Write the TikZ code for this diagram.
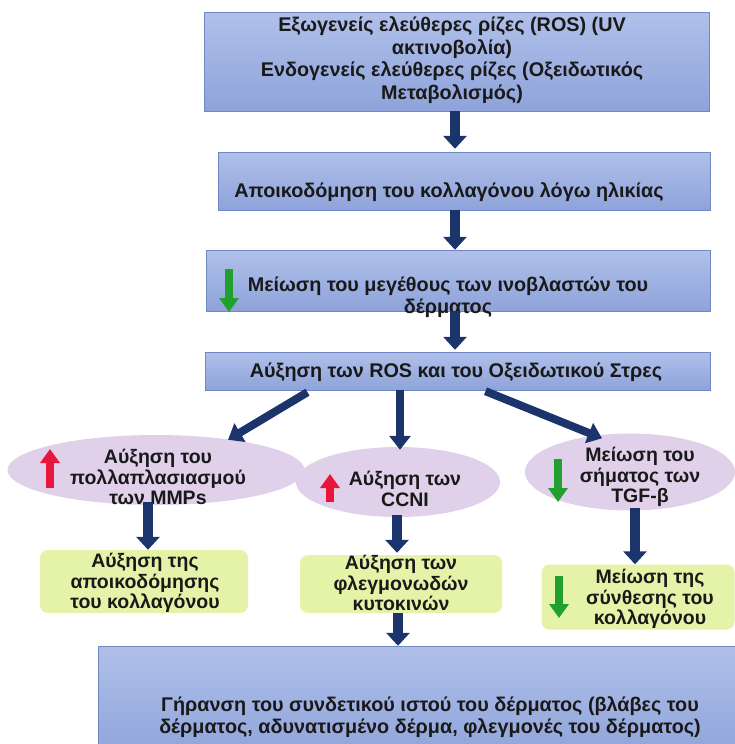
\documentclass[tikz,border=0pt]{standalone}
\usepackage{fontspec}
\setmainfont{Liberation Sans}
\usetikzlibrary{arrows.meta,shapes.geometric}

\definecolor{navy}{HTML}{1B356C}
\definecolor{boxtop}{HTML}{B0C0EA}
\definecolor{boxbot}{HTML}{8EA3DA}
\definecolor{boxline}{HTML}{6F88C4}
\definecolor{lilac}{HTML}{E0D0EA}
\definecolor{lime}{HTML}{E5F3A8}
\definecolor{upred}{HTML}{E8163C}
\definecolor{downgreen}{HTML}{21A030}

\tikzset{
  bluebox/.style={draw=boxline, top color=boxtop, bottom color=boxbot, rectangle, inner sep=0pt},
  oval/.style={ellipse, fill=lilac, inner sep=0pt},
  limebox/.style={rectangle, rounded corners=8pt, fill=lime, inner sep=0pt},
  flow/.style={navy, line width=10pt, -{Triangle[width=23pt,length=13pt]}},
  slant/.style={navy, line width=8pt, -{Triangle[width=21pt,length=14pt]}},
  updn/.style={line width=8pt, -{Triangle[width=19pt,length=14pt]}},
  txt/.style={align=center, inner sep=0pt, font=\bfseries\fontsize{19.8}{22.5}\selectfont, text=black!90},
  ntxt/.style={align=center, inner sep=0pt, font=\bfseries\fontsize{19.5}{20.5}\selectfont, text=black!90},
}

\begin{document}
\begin{tikzpicture}[x=1pt,y=-1pt]
\useasboundingbox (0,0) rectangle (735,744);

% main column
\node[bluebox, minimum width=505pt, minimum height=99pt] (ros) at (456.5,61.5){};
\node[txt] (ros-t) at (452,60){Εξωγενείς ελεύθερες ρίζες (ROS) (UV\\ακτινοβολία)\\Ενδογενείς ελεύθερες ρίζες (Οξειδωτικός\\Μεταβολισμός)};
\node[bluebox, minimum width=492pt, minimum height=58pt] (age) at (464,181){};
\node[txt] (age-t) at (449,192){Αποικοδόμηση του κολλαγόνου λόγω ηλικίας};
\node[bluebox, minimum width=504pt, minimum height=61pt] (fib) at (458,280.5){};
\node[txt] (fib-t) at (448,297){Μείωση του μεγέθους των ινοβλαστών του\\δέρματος};
\node[bluebox, minimum width=505pt, minimum height=38pt] (stress) at (457.5,371){};
\node[txt] (stress-t) at (456,372){Αύξηση των ROS και του Οξειδωτικού Στρες};

% three branches
\node[oval, minimum width=297pt, minimum height=70pt] (mmp) at (156,470){};
\node[ntxt] (mmp-t) at (158,477){Αύξηση του\\πολλαπλασιασμού\\των MMPs};
\node[oval, minimum width=204pt, minimum height=70pt] (ccn) at (398,482){};
\node[ntxt] (ccn-t) at (405,489){Αύξηση των\\CCNI};
\node[oval, minimum width=210pt, minimum height=77pt] (tgf) at (630,472){};
\node[ntxt] (tgf-t) at (640,477){Μείωση του\\σήματος των\\TGF-β};

\node[limebox, minimum width=208pt, minimum height=63pt] (deg) at (144,581.5){};
\node[ntxt] (deg-t) at (145,583){Αύξηση της\\αποικοδόμησης\\του κολλαγόνου};
\node[limebox, minimum width=202pt, minimum height=58pt] (cyt) at (401,584){};
\node[ntxt] (cyt-t) at (401,583){Αύξηση των\\φλεγμονωδών\\κυτοκινών};
\node[limebox, minimum width=193pt, minimum height=65pt] (syn) at (638,597){};
\node[ntxt] (syn-t) at (650,599){Μείωση της\\σύνθεσης του\\κολλαγόνου};

\node[bluebox, minimum width=644pt, minimum height=114pt] (aging) at (420,703){};
\node[txt] (aging-t) at (430,717){Γήρανση του συνδετικού ιστού του δέρματος (βλάβες του\\δέρματος, αδυνατισμένο δέρμα, φλεγμονές του δέρματος)};

% connectors
\coordinate (col) at (455,0);
\coordinate (mid) at (400,0);
\coordinate (low) at (398,0);
\draw[flow] (ros.south -| col) -- ([yshift=3pt]age.north -| col);
\draw[flow] (age.south -| col) -- (fib.north -| col);
\draw[flow] (fib.south -| col) -- ([yshift=2pt]stress.north -| col);
\draw[slant] ([xshift=-150pt,yshift=-2pt]stress.south) -- ([xshift=72pt,yshift=-5pt]mmp.north);
\draw[slant] (stress.south -| mid) -- ([yshift=-3pt]ccn.north -| mid);
\draw[slant] ([xshift=28pt,yshift=-1pt]stress.south) -- ([xshift=-28pt,yshift=-5pt]tgf.north);
\draw[flow] ([xshift=-8pt,yshift=3pt]mmp.south) -- ([xshift=4pt]deg.north);
\draw[flow] ([xshift=-1pt,yshift=2pt]ccn.south) -- ([xshift=-4pt,yshift=2pt]cyt.north);
\draw[flow] ([xshift=5pt,yshift=3pt]tgf.south) -- ([xshift=-3pt]syn.north);
\draw[flow] (cyt.south -| low) -- (aging.north -| low);

% up / down marks
\draw[updn, downgreen] (229,269) -- (229,312);
\draw[updn, upred] (50,488) -- (50,449);
\draw[updn, upred] (330,502) -- (330,474);
\draw[updn, downgreen] (558,459) -- (558,502);
\draw[updn, downgreen] (559,576) -- (559,618);
\end{tikzpicture}
\end{document}
